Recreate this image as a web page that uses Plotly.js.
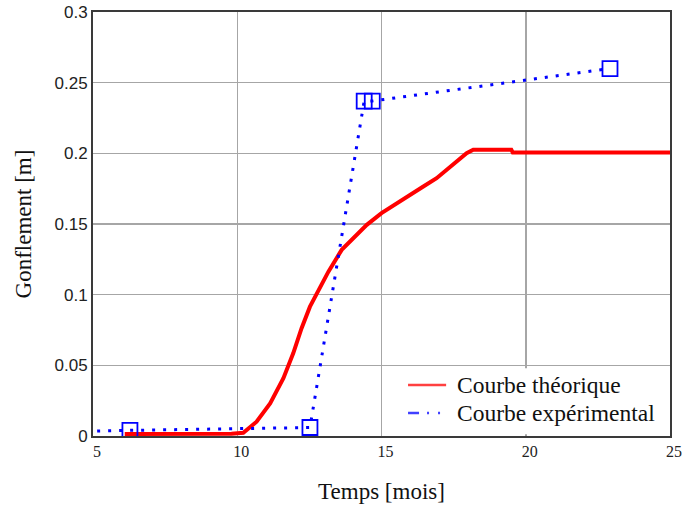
<!DOCTYPE html>
<html>
<head>
<meta charset="utf-8">
<script src="https://cdn.plot.ly/plotly-3.0.1.min.js"></script>
<style>
  html, body { margin: 0; padding: 0; background: #fff; }
  #chart { width: 682px; height: 512px; }
</style>
</head>
<body>
<div id="chart"></div>
<script>
// Theoretical swelling curve (months, metres)
const theoX = [6.1, 7, 8, 9, 9.8, 10.21, 10.67, 11.14, 11.6, 11.94, 12.23, 12.52, 12.81, 13.16, 13.62, 14.14, 14.49, 15.0, 15.53, 15.99, 16.45, 16.91, 17.32, 17.72, 17.95, 18.18, 19.5, 19.55, 25];
const theoY = [0.0014, 0.0014, 0.0014, 0.0014, 0.0016, 0.0023, 0.0101, 0.0231, 0.0409, 0.0585, 0.0763, 0.0915, 0.1034, 0.1163, 0.1317, 0.1423, 0.1494, 0.1577, 0.1648, 0.1706, 0.1765, 0.1824, 0.1895, 0.1966, 0.2001, 0.2025, 0.2025, 0.2006, 0.2006];

// Measured swelling (months, metres)
const expX = [4, 6.28, 12.52, 14.4, 14.68, 22.92];
const expY = [0.003, 0.004, 0.006, 0.237, 0.237, 0.26];

const seriesNames = ['Courbe théorique', 'Courbe expérimental'];
const xTicks = [5, 10, 15, 20, 25];
const yTicks = [0, 0.05, 0.1, 0.15, 0.2, 0.25, 0.3];

const serif = 'Liberation Serif, Times New Roman, serif';
const red = '#ff0000';
const blue = '#0000ff';

const traces = [
  {
    x: theoX, y: theoY, name: seriesNames[0],
    type: 'scatter', mode: 'lines', showlegend: false,
    line: { color: red, width: 4 }
  },
  {
    // dotted connecting line
    x: expX, y: expY, name: seriesNames[1],
    type: 'scatter', mode: 'lines', showlegend: false,
    line: { color: blue, width: 3, dash: '3px,8px' }
  },
  {
    // open square markers at each measurement
    x: expX, y: expY, name: seriesNames[1],
    type: 'scatter', mode: 'markers', showlegend: false,
    marker: { symbol: 'square-open', size: 15, color: blue, line: { width: 1.8, color: blue } }
  }
];

// Key box in the lower right corner of the plot (paper coordinates)
const key = { x0: 0.506, x1: 0.9965, y0: 0.004, y1: 0.16, sx0: 0.546, sx1: 0.612, tx: 0.6274, rows: [0.1203, 0.0542] };

const shapes = [
  { type: 'rect', xref: 'paper', yref: 'paper', x0: key.x0, x1: key.x1, y0: key.y0, y1: key.y1,
    fillcolor: '#ffffff', line: { width: 0 }, layer: 'above' },
  { type: 'line', xref: 'paper', yref: 'paper', x0: key.sx0, x1: key.sx1, y0: key.rows[0], y1: key.rows[0],
    line: { color: '#ff4040', width: 2.5 }, layer: 'above' },
  { type: 'line', xref: 'paper', yref: 'paper', x0: key.sx0, x1: key.sx1, y0: key.rows[1], y1: key.rows[1],
    line: { color: '#4040ff', width: 2.5, dash: '11px,8px,2px,9px,2px,9px' }, layer: 'above' }
];

const annotations = seriesNames.map((name, i) => ({
  text: name, xref: 'paper', yref: 'paper', x: key.tx, y: key.rows[i],
  xanchor: 'left', yanchor: 'middle', showarrow: false,
  font: { family: serif, size: 23.5, color: '#111' }
}));

const layout = {
  width: 682, height: 512,
  margin: { l: 93, r: 12, t: 12, b: 76 },
  paper_bgcolor: '#ffffff', plot_bgcolor: '#ffffff',
  showlegend: false,
  shapes: shapes,
  annotations: annotations,
  xaxis: {
    range: [5, 25], tickvals: xTicks, ticktext: xTicks.map(String),
    showgrid: true, gridcolor: '#a6a6a6', gridwidth: 1.5,
    zeroline: false, showline: true, mirror: true, linecolor: '#3a3a3a', linewidth: 2,
    ticks: '', ticklabelshift: 4,
    tickfont: { family: serif, size: 16, color: '#222' },
    title: { text: 'Temps [mois]', font: { family: serif, size: 23, color: '#111' }, standoff: 24 }
  },
  yaxis: {
    range: [0, 0.3], tickvals: yTicks, ticktext: yTicks.map(String),
    showgrid: true, gridcolor: '#a6a6a6', gridwidth: 1.5,
    zeroline: false, showline: true, mirror: true, linecolor: '#3a3a3a', linewidth: 2,
    ticks: '',
    tickfont: { family: 'Liberation Sans, Arial, sans-serif', size: 17, color: '#222' },
    title: { text: 'Gonflement [m]', font: { family: serif, size: 23, color: '#111' }, standoff: 16 }
  }
};

Plotly.newPlot('chart', traces, layout, { displayModeBar: false, staticPlot: true });
</script>
</body>
</html>
